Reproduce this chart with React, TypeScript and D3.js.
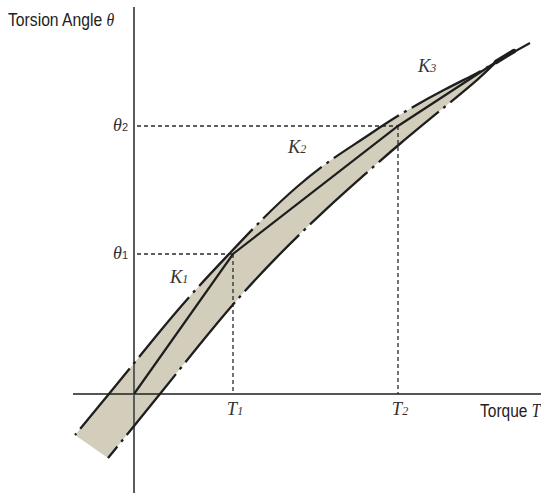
import React from "react";
import * as d3 from "d3";

// Torque (x) vs torsion angle (y), arbitrary units (origin at 0,0)
const upperBound: [number, number][] = [
  [-0.59, -0.41], [-0.25, 0], [0.01, 0.32], [0.26, 0.63], [0.59, 1.02],
  [0.96, 1.41], [1.29, 1.76], [1.63, 2.08], [1.96, 2.34], [2.29, 2.55],
  [2.64, 2.79], [3.13, 3.06], [3.46, 3.22], [3.62, 3.32],
];
const lowerBound: [number, number][] = [
  [-0.26, -0.64], [0, -0.32], [0.26, 0], [0.66, 0.5], [0.98, 0.89],
  [1.39, 1.34], [1.96, 1.89], [2.29, 2.18], [2.64, 2.49], [3.13, 2.89],
  [3.46, 3.16], [3.62, 3.32],
];
const stiffnessLine: [number, number][] = [
  [0, 0], [0.99, 1.4], [2.64, 2.68], [3.62, 3.32], [3.96, 3.51],
];
const tipSegment: [number, number][] = [[3.62, 3.32], [3.8, 3.43]];

const torqueTicks = [
  { value: 0.99, main: "T", sub: "1" },
  { value: 2.64, main: "T", sub: "2" },
];
const angleTicks = [
  { value: 1.4, main: "θ", sub: "1" },
  { value: 2.68, main: "θ", sub: "2" },
];
const kLabels = [
  { x: 0.36, y: 1.11, sub: "1" },
  { x: 1.54, y: 2.41, sub: "2" },
  { x: 2.84, y: 3.22, sub: "3" },
];

const W = 541;
const H = 493;
const SANS = "'Liberation Sans', Arial, sans-serif";
const SERIF = "'Liberation Serif', 'Times New Roman', serif";
const INK = "#1e1e1e";
const NARROW = 0.84;

export default function App() {
  const x = d3.scaleLinear().domain([-0.61, 4.07]).range([73, 541]);
  const y = d3.scaleLinear().domain([-0.99, 3.87]).range([493, 7]);

  const curve = d3
    .line<[number, number]>()
    .x((d) => x(d[0]))
    .y((d) => y(d[1]))
    .curve(d3.curveBasis);
  const straight = d3
    .line<[number, number]>()
    .x((d) => x(d[0]))
    .y((d) => y(d[1]));

  const upperPath = curve(upperBound) || "";
  const lowerPath = curve(lowerBound) || "";
  const lowerRevPath = curve([...lowerBound].reverse()) || "";
  const bandPath = upperPath + " L" + lowerRevPath.slice(1) + " Z";

  const x0 = x(0);
  const y0 = y(0);

  return (
    <svg
      width={W}
      height={H}
      style={{ position: "absolute", left: 0, top: 0, background: "#fff" }}
    >
      <path d={bandPath} fill="#d3cebc" stroke="none" />

      {/* axes */}
      <line x1={x(-0.61)} x2={x(4.07)} y1={y0} y2={y0} stroke={INK} strokeWidth={1.6} />
      <line x1={x0} x2={x0} y1={y(3.87)} y2={y(-0.99)} stroke="#5c5c5c" strokeWidth={2} />

      {/* guide lines */}
      {torqueTicks.map((t, i) => {
        const a = angleTicks[i];
        return (
          <g key={i} stroke="#2a2a2a" strokeWidth={1.3} strokeDasharray="4 3" fill="none">
            <line x1={x0 + 3} x2={x(t.value)} y1={y(a.value)} y2={y(a.value)} />
            <line x1={x(t.value)} x2={x(t.value)} y1={y(a.value)} y2={y0} />
          </g>
        );
      })}

      {/* boundaries */}
      <path d={upperPath} fill="none" stroke={INK} strokeWidth={2.3} strokeDasharray="78 6 3 6" strokeDashoffset={-8} />
      <path d={lowerPath} fill="none" stroke={INK} strokeWidth={2.3} strokeDasharray="78 6 3 6" strokeDashoffset={-30} />

      {/* stiffness line */}
      <path d={straight(stiffnessLine) || ""} fill="none" stroke={INK} strokeWidth={2.2} strokeLinejoin="miter" />
      <path d={straight(tipSegment) || ""} fill="none" stroke={INK} strokeWidth={4.5} strokeLinecap="round" />

      {/* axis titles */}
      <g transform={`translate(8,26) scale(${NARROW},1)`}>
        <text x={0} y={0} fontFamily={SANS} fontSize={18.7} fill="#222">
          Torsion Angle{" "}
          <tspan fontFamily={SERIF} fontStyle="italic">θ</tspan>
        </text>
      </g>
      <g transform={`translate(480,417) scale(${NARROW},1)`}>
        <text x={0} y={0} fontFamily={SANS} fontSize={18.5} fill="#222">
          Torque{" "}
          <tspan fontFamily={SERIF} fontStyle="italic">T</tspan>
        </text>
      </g>

      {/* tick labels */}
      {torqueTicks.map((t) => (
        <text key={t.sub} x={x(t.value) + 2} y={415} textAnchor="middle" fontFamily={SERIF} fontStyle="italic" fontSize={18.5} fill="#333">
          {t.main}
          <tspan fontSize={12}>{t.sub}</tspan>
        </text>
      ))}
      {angleTicks.map((a) => (
        <text key={a.sub} x={128} y={y(a.value) + 5} textAnchor="end" fill="#333">
          <tspan fontFamily={SERIF} fontStyle="italic" fontSize={18}>{a.main}</tspan>
          <tspan fontFamily={SANS} fontSize={11}>{a.sub}</tspan>
        </text>
      ))}

      {kLabels.map((k) => (
        <text key={k.sub} x={x(k.x)} y={y(k.y)} fontFamily={SERIF} fontStyle="italic" fontSize={18.5} fill="#333">
          K<tspan fontSize={12}>{k.sub}</tspan>
        </text>
      ))}
    </svg>
  );
}
